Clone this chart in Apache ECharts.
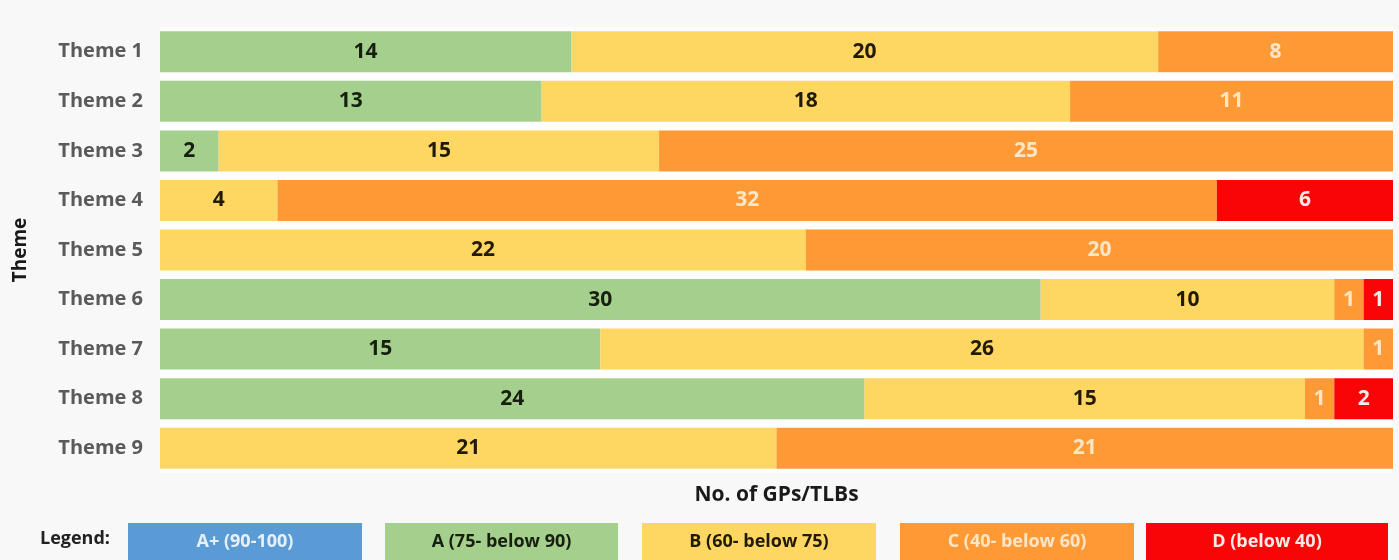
<!DOCTYPE html>
<html>
<head>
<meta charset="utf-8">
<title>Theme grades</title>
<script src="https://cdn.jsdelivr.net/npm/echarts@6/dist/echarts.min.js"></script>
<style>
  html, body { margin: 0; padding: 0; background: #f8f8f8; }
  #chart { width: 1399px; height: 560px; }
</style>
</head>
<body>
<div id="chart"></div>
<script>
// Themes, top to bottom
const themes = ['Theme 1', 'Theme 2', 'Theme 3', 'Theme 4', 'Theme 5', 'Theme 6', 'Theme 7', 'Theme 8', 'Theme 9'];

// Number of GPs/TLBs per grade band, one value per theme
const gradeAPlus = [0, 0, 0, 0, 0, 0, 0, 0, 0];
const gradeA     = [14, 13, 2, 0, 0, 30, 15, 24, 0];
const gradeB     = [20, 18, 15, 4, 22, 10, 26, 15, 21];
const gradeC     = [8, 11, 25, 32, 20, 1, 1, 1, 21];
const gradeD     = [0, 0, 0, 6, 0, 1, 0, 2, 0];

const gradeNames = ['A+ (90-100)', 'A (75- below 90)', 'B (60- below 75)', 'C (40- below 60)', 'D (below 40)'];
const gradeValues = [gradeAPlus, gradeA, gradeB, gradeC, gradeD];

const fill  = ['#5b9bd5', '#a5cf8c', '#fed763', '#fe9a36', '#fa0505'];
const ink   = ['#e6f0fa', '#17200f', '#221a05', '#fde6c8', '#ffe9e9'];

const FONT = '"Open Sans", "Noto Sans", sans-serif';

const series = gradeNames.map((name, i) => ({
  name: name,
  type: 'bar',
  stack: 'total',
  barWidth: 41,
  data: gradeValues[i],
  itemStyle: { color: fill[i] },
  label: {
    show: true,
    position: 'inside',
    color: ink[i],
    fontFamily: FONT,
    fontWeight: 'bold',
    fontSize: 21,
    formatter: p => (p.value ? String(p.value) : '')
  },
  emphasis: { disabled: true }
}));

// Legend strip: boxes with the band name written inside
const legendBoxes = [[128, 362], [385, 618], [642, 876], [900, 1134], [1146, 1388]];
const graphic = [{
  type: 'text',
  left: 40,
  top: 530,
  style: { text: 'Legend:', fill: '#222', font: 'bold 18px ' + FONT }
}];
gradeNames.forEach((name, i) => {
  const [x0, x1] = legendBoxes[i];
  graphic.push({
    type: 'group',
    left: x0,
    top: 523,
    children: [
      { type: 'rect', shape: { x: 0, y: 0, width: x1 - x0, height: 40 }, style: { fill: fill[i] } },
      { type: 'text', x: (x1 - x0) / 2, y: 19,
        style: { text: name, fill: ink[i], font: 'bold 18px ' + FONT, align: 'center', verticalAlign: 'middle' } }
    ]
  });
});

const chart = echarts.init(document.getElementById('chart'), null, { renderer: 'canvas' });
chart.setOption({
  backgroundColor: '#f8f8f8',
  animation: false,
  grid: {
    left: 160, right: 6, top: 27, bottom: 87,
    show: true, backgroundColor: '#fdfdfd', borderWidth: 0
  },
  xAxis: {
    type: 'value',
    min: 0, max: 42,
    name: 'No. of GPs/TLBs',
    nameLocation: 'middle',
    nameGap: 12,
    nameTextStyle: { color: '#1a1a1a', fontFamily: FONT, fontWeight: 'bold', fontSize: 21 },
    axisLabel: { show: false },
    axisTick: { show: false },
    axisLine: { show: false },
    splitLine: { show: false }
  },
  yAxis: {
    type: 'category',
    data: themes,
    inverse: true,
    name: 'Theme',
    nameLocation: 'middle',
    nameGap: 130,
    nameRotate: 90,
    nameTextStyle: { color: '#1a1a1a', fontFamily: FONT, fontWeight: 'bold', fontSize: 19 },
    axisLabel: { color: '#5a5a5a', fontFamily: FONT, fontWeight: 'bold', fontSize: 20, margin: 17 },
    axisTick: { show: false },
    axisLine: { show: false }
  },
  series: series,
  graphic: graphic
});
</script>
</body>
</html>
